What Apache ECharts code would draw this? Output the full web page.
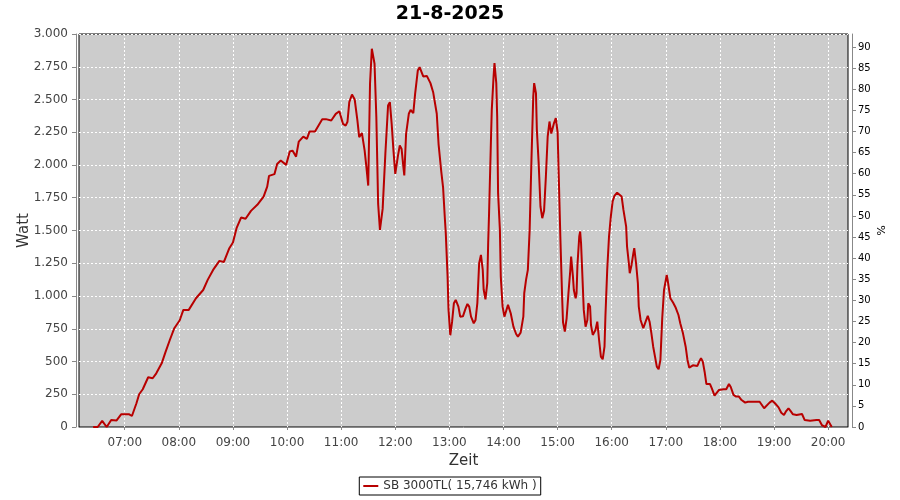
<!DOCTYPE html>
<html>
<head>
<meta charset="utf-8">
<script src="https://cdn.jsdelivr.net/npm/echarts@6/dist/echarts.min.js"></script>
<style>html,body{margin:0;padding:0;background:#fff}#c{width:900px;height:500px}</style>
</head>
<body>
<div id="c"></div>
<script>
const chartTitle = '21-8-2025';
const seriesName = 'SB 3000TL( 15,746 kWh )';
const times = ['06:25','06:30','06:35','06:40','06:45','06:51','06:56','07:05','07:08','07:10','07:13','07:16','07:20','07:26','07:31','07:35','07:41','07:45','07:50','07:55',
'08:01','08:05','08:11','08:19','08:27','08:32','08:38','08:45','08:50','08:56','09:00','09:04','09:09','09:14','09:20','09:27','09:34','09:38','09:40','09:46','09:49','09:53','09:59',
'10:03','10:06','10:10','10:13','10:18','10:22','10:25','10:31','10:39','10:43','10:49','10:54','10:58','11:02','11:05','11:07','11:09','11:12','11:15','11:18','11:20','11:23','11:26','11:28','11:30','11:32','11:34','11:37','11:39','11:41','11:43','11:46','11:49','11:52','11:54','11:56','11:58',
'12:00','12:03','12:05','12:07','12:09','12:10','12:12','12:15','12:17','12:20','12:22','12:25','12:27','12:31','12:35','12:39','12:42','12:46','12:48','12:51','12:53','12:55','12:56','12:58','12:59',
'13:01','13:03','13:05','13:07','13:10','13:12','13:15','13:18','13:20','13:22','13:24','13:27','13:29','13:31','13:33','13:35','13:37','13:38','13:40','13:42','13:43','13:44','13:46','13:47','13:49','13:50','13:52','13:53','13:54','13:56','13:57','13:59',
'14:01','14:03','14:05','14:06','14:08','14:11','14:14','14:16','14:19','14:22','14:23','14:25','14:27','14:29','14:31','14:33','14:34','14:36','14:37','14:39','14:41','14:43','14:45','14:47','14:49','14:51','14:53','14:56','14:58',
'15:00','15:01','15:03','15:05','15:06','15:08','15:10','15:12','15:14','15:15','15:16','15:17','15:18','15:20','15:21','15:22','15:24','15:25','15:26','15:27','15:29','15:31','15:33','15:34','15:36','15:37','15:39','15:42','15:44','15:46','15:48','15:50','15:52','15:53','15:55','15:57','15:59',
'16:01','16:03','16:06','16:08','16:11','16:13','16:16','16:17','16:19','16:20','16:22','16:24','16:25','16:27','16:29','16:30','16:32','16:35','16:38','16:40','16:42','16:44','16:46','16:48','16:50','16:52','16:54','16:56','16:58',
'17:01','17:02','17:05','17:08','17:11','17:14','17:16','17:19','17:22','17:24','17:26','17:30','17:35','17:37','17:39','17:41','17:43','17:45','17:49','17:51','17:54','17:56','17:59',
'18:04','18:07','18:10','18:12','18:15','18:18','18:21','18:24','18:28','18:31','18:37','18:44','18:46','18:49','18:51','18:55','18:58',
'19:01','19:05','19:08','19:11','19:13','19:16','19:18','19:21','19:25','19:27','19:31','19:34','19:40','19:47','19:50','19:53','19:55','19:57','20:00','20:02','20:04'];
const watts = [0,0,46,0,53,50,97,97,84,97,181,250,288,380,372,410,486,568,664,754,
815,894,894,983,1046,1123,1199,1268,1260,1365,1408,1518,1599,1590,1650,1696,1759,1835,1917,1930,2007,2034,2001,
2103,2110,2064,2179,2217,2200,2256,2256,2350,2350,2340,2390,2410,2314,2301,2330,2480,2538,2500,2340,2213,2243,2111,1984,1843,2620,2887,2773,2366,1703,1505,1665,2085,2454,2480,2314,2110,
1932,2072,2149,2123,1984,1920,2238,2391,2420,2396,2543,2722,2747,2676,2680,2625,2556,2391,2160,1950,1830,1590,1480,1150,900,
700,804,945,970,919,842,845,906,939,919,842,792,817,945,1250,1314,1199,1050,975,1098,1403,1632,2167,2421,2676,2778,2625,2370,1785,1505,1148,919,
842,850,932,932,868,766,710,690,720,842,1021,1123,1199,1505,2039,2523,2625,2548,2268,2014,1683,1594,1650,1912,2217,2332,2240,2320,2358,
2250,1988,1460,995,800,728,830,1020,1190,1301,1314,1148,1046,983,1020,1237,1454,1492,1403,1237,894,766,817,945,920,779,703,741,804,664,537,517,613,842,1199,1454,1606,
1721,1764,1789,1802,1759,1657,1530,1377,1250,1174,1237,1327,1365,1250,1098,919,817,754,812,848,804,715,613,537,461,441,512,830,1046,
1161,1123,983,950,910,855,792,715,613,512,453,471,466,499,525,499,422,328,328,295,239,245,283,
288,288,328,305,245,232,232,206,186,193,193,193,181,143,143,186,201,
181,150,109,92,117,143,125,97,92,100,99,53,48,53,53,15,0,0,48,40,0];
const hourTicks = ['07:00','08:00','09:00','10:00','11:00','12:00','13:00','14:00','15:00','16:00','17:00','18:00','19:00','20:00'];
const pctTicks = [0,5,10,15,20,25,30,35,40,45,50,55,60,65,70,75,80,85,90];

function toMin(s){const p=s.split(':');return +p[0]*60 + +p[1];}
function fmtMin(v){const h=Math.floor(v/60),m=Math.round(v-h*60);return (h<10?'0':'')+h+':'+(m<10?'0':'')+m;}
function fmtW(v){return v>=1000?Math.floor(v/1000)+'.'+String(v%1000).padStart(3,'0'):String(v);}

const data = times.map((t,i)=>[toMin(t), watts[i]]);
const hourVals = hourTicks.map(toMin);
const FONT = 'DejaVu Sans';

const chart = echarts.init(document.getElementById('c'), null, {renderer:'canvas'});
chart.setOption({
  animation:false,
  backgroundColor:'#fff',
  title:{text:chartTitle,left:'center',top:5,padding:0,textStyle:{fontFamily:FONT,fontSize:19,fontWeight:'bold',color:'#000'}},
  legend:{data:[seriesName],left:'center',top:477,padding:[3,4,3,4],borderColor:'#000',borderWidth:1,
    icon:'rect',itemWidth:15,itemHeight:2,itemGap:5,
    textStyle:{fontFamily:FONT,fontSize:12,color:'#333'}},
  grid:{left:79,right:52,top:34,bottom:73,show:true,backgroundColor:'#cccccc',borderColor:'#000',borderWidth:1},
  xAxis:{type:'value',min:369.3,max:1222,offset:4,
    name:'Zeit',nameLocation:'middle',nameGap:23,nameMoveOverlap:false,nameTextStyle:{fontFamily:FONT,fontSize:15,color:'#333'},
    axisLine:{show:true,lineStyle:{color:'#888'}},
    axisTick:{show:true,length:3,lineStyle:{color:'#888'},customValues:hourVals},
    axisLabel:{customValues:hourVals,formatter:fmtMin,margin:6,fontFamily:FONT,fontSize:12,color:'#444'},
    splitLine:{show:true,lineStyle:{color:'#fff',type:[2,2],width:1}}},
  yAxis:[{type:'value',min:0,max:3000,interval:250,offset:3,position:'left',
    name:'Watt',nameLocation:'middle',nameRotate:90,nameGap:44,nameMoveOverlap:false,nameTextStyle:{fontFamily:FONT,fontSize:15,color:'#333'},
    axisLine:{show:true,lineStyle:{color:'#888'}},
    axisTick:{show:true,length:4,lineStyle:{color:'#888'}},
    axisLabel:{formatter:fmtW,margin:8,fontFamily:FONT,fontSize:12,color:'#444'},
    splitLine:{show:true,lineStyle:{color:'#fff',type:[2,2],width:1}}},
   {type:'value',min:0,max:93.1,offset:4,position:'right',
    name:'%',nameLocation:'middle',nameRotate:-90,nameGap:22,nameMoveOverlap:false,nameTextStyle:{fontFamily:FONT,fontSize:11,color:'#000'},
    axisLine:{show:true,lineStyle:{color:'#888'}},
    axisTick:{show:true,length:4,lineStyle:{color:'#888'},customValues:pctTicks},
    axisLabel:{customValues:pctTicks,margin:6,fontFamily:FONT,fontSize:10,color:'#000'},
    splitLine:{show:false}}],
  series:[{name:seriesName,type:'line',yAxisIndex:0,data:data,showSymbol:false,symbol:'none',
    lineStyle:{color:'#b80000',width:2},itemStyle:{color:'#b80000'}}]
});
</script>
</body>
</html>
